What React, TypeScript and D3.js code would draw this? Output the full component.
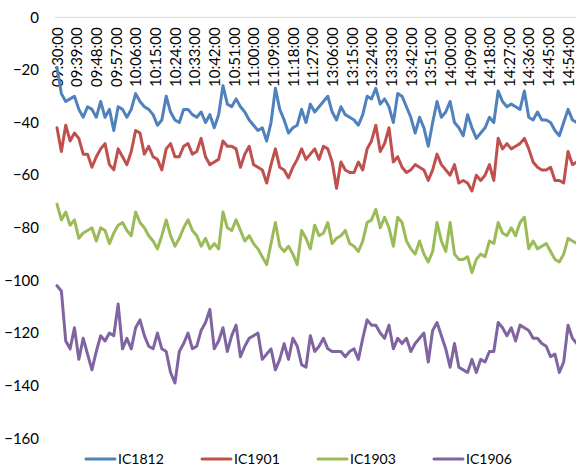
import * as d3 from "d3";
import React from "react";

// x labels, one every 9 minutes (lunch break skipped)
const tickLabels = [
  "09:30:00", "09:39:00", "09:48:00", "09:57:00", "10:06:00", "10:15:00", "10:24:00",
  "10:33:00", "10:42:00", "10:51:00", "11:00:00", "11:09:00", "11:18:00", "11:27:00",
  "13:06:00", "13:15:00", "13:24:00", "13:33:00", "13:42:00", "13:51:00", "14:00:00",
  "14:09:00", "14:18:00", "14:27:00", "14:36:00", "14:45:00", "14:54:00",
];

const yTicks = [0, -20, -40, -60, -80, -100, -120, -140, -160];

const seriesNames = ["IC1812", "IC1901", "IC1903", "IC1906"];
const seriesColors = ["#4F81BD", "#C0504D", "#9BBB59", "#8064A2"];

// values sampled every 2 trading minutes, 09:30 .. 15:00
const ic1812 = [
  -19, -29, -32, -31, -30, -35, -38, -34, -35, -38,
  -32, -38, -35, -43, -34, -35, -38, -35, -29, -32,
  -34, -35, -37, -41, -39, -30, -36, -39, -40, -35,
  -35, -37, -38, -36, -40, -37, -42, -37, -26, -33,
  -34, -31, -34, -36, -39, -41, -43, -42, -47, -40,
  -27, -35, -39, -44, -42, -41, -35, -40, -33, -36,
  -34, -32, -30, -36, -39, -34, -37, -38, -39, -41,
  -37, -30, -31, -27, -33, -31, -34, -40, -29, -30,
  -34, -38, -44, -38, -42, -49, -40, -32, -38, -36,
  -32, -40, -42, -45, -37, -42, -46, -44, -42, -38,
  -40, -28, -32, -34, -33, -34, -35, -28, -38, -39,
  -36, -39, -39, -40, -43, -45, -40, -35, -39, -40, -39,
];

const ic1901 = [
  -42, -51, -41, -47, -44, -46, -52, -52, -57, -53,
  -50, -48, -56, -58, -50, -53, -56, -51, -43, -44,
  -52, -49, -53, -54, -58, -50, -48, -53, -53, -49,
  -48, -52, -51, -46, -53, -56, -55, -54, -47, -49,
  -49, -50, -57, -52, -49, -56, -57, -58, -63, -56,
  -50, -57, -58, -61, -57, -54, -50, -54, -52, -50,
  -54, -49, -50, -55, -65, -55, -58, -59, -59, -55,
  -58, -50, -47, -41, -51, -48, -42, -55, -53, -57,
  -59, -58, -56, -57, -58, -62, -58, -52, -56, -58,
  -60, -56, -63, -62, -63, -66, -60, -62, -60, -56,
  -62, -46, -50, -48, -50, -49, -48, -46, -50, -55,
  -57, -58, -58, -57, -62, -62, -63, -51, -56, -55, -54,
];

const ic1903 = [
  -71, -77, -74, -79, -77, -84, -82, -81, -80, -85,
  -80, -81, -86, -82, -79, -78, -81, -83, -74, -78,
  -80, -83, -85, -88, -83, -77, -83, -87, -84, -80,
  -77, -81, -83, -87, -84, -88, -86, -88, -74, -80,
  -81, -77, -81, -85, -83, -86, -88, -91, -94, -86,
  -78, -87, -89, -87, -90, -94, -81, -84, -88, -79,
  -83, -82, -78, -86, -84, -83, -81, -86, -87, -89,
  -85, -78, -77, -73, -80, -76, -80, -87, -76, -78,
  -85, -88, -90, -85, -90, -93, -89, -78, -85, -89,
  -78, -90, -92, -92, -91, -97, -92, -90, -91, -85,
  -86, -78, -82, -83, -80, -83, -78, -76, -88, -85,
  -88, -87, -86, -89, -92, -93, -90, -84, -85, -86, -84,
];

const ic1906 = [
  -102, -104, -123, -126, -118, -130, -122, -128, -134, -127,
  -121, -123, -120, -121, -109, -126, -122, -126, -118, -115,
  -121, -125, -126, -120, -126, -127, -135, -139, -127, -124,
  -120, -126, -125, -119, -116, -111, -126, -123, -118, -127,
  -121, -117, -129, -125, -122, -121, -120, -130, -128, -126,
  -134, -130, -124, -130, -122, -125, -132, -133, -121, -127,
  -125, -122, -126, -127, -127, -127, -129, -127, -126, -130,
  -122, -115, -117, -117, -120, -122, -117, -126, -122, -124,
  -122, -127, -124, -122, -120, -131, -119, -116, -121, -126,
  -133, -124, -133, -134, -135, -130, -135, -130, -131, -127,
  -127, -116, -118, -121, -118, -123, -117, -118, -119, -122,
  -122, -124, -125, -129, -128, -135, -131, -117, -122, -124, -123,
];

const STEP = 2; // minutes between samples
const TICK_EVERY = 9; // minutes between x labels
const FONT = "Lato, 'Liberation Sans', sans-serif";

const width = 576;
const height = 467;

export default function App() {
  const svgRef = React.useRef<SVGSVGElement | null>(null);

  React.useEffect(() => {
    const series = [ic1812, ic1901, ic1903, ic1906];
    const lastMinute = (ic1812.length - 1) * STEP;

    // plot runs past the right edge of the picture, as in the reference
    const x = d3.scaleLinear().domain([0, lastMinute]).range([57, 57 + 2.184 * lastMinute]);
    const y = d3.scaleLinear().domain([-160, 0]).range([438.3, 17.3]);

    const svg = d3.select(svgRef.current);
    svg.selectAll("*").remove();

    // category axis sits at y = 0
    svg
      .append("line")
      .attr("x1", 55)
      .attr("x2", width)
      .attr("y1", y(0))
      .attr("y2", y(0))
      .attr("stroke", "#d9d9d9")
      .attr("stroke-width", 1);

    const xAxis = d3
      .axisBottom(x)
      .tickValues(tickLabels.map((_, i) => i * TICK_EVERY))
      .tickSize(0)
      .tickFormat((d) => tickLabels[Math.round(+d / TICK_EVERY)]);
    const xg = svg.append("g").attr("transform", `translate(0,${y(0)})`).call(xAxis);
    xg.select(".domain").remove();
    xg.selectAll("text")
      .attr("transform", "rotate(-90)")
      .attr("text-anchor", "end")
      .attr("x", -10)
      .attr("y", 0)
      .attr("dy", "0.35em")
      .attr("fill", "#000")
      .attr("font-size", 15)
      .attr("font-family", FONT);

    const yAxis = d3.axisLeft(y).tickValues(yTicks).tickSize(0).tickPadding(0);
    const yg = svg.append("g").attr("transform", "translate(39,0)").call(yAxis);
    yg.select(".domain").remove();
    yg.selectAll("text").attr("fill", "#000").attr("font-size", 15).attr("font-family", FONT);

    // series lines
    const line = d3
      .line<number>()
      .x((_, i) => x(i * STEP))
      .y((d) => y(d));

    svg
      .append("g")
      .selectAll("path")
      .data(series)
      .join("path")
      .attr("fill", "none")
      .attr("stroke", (_, i) => seriesColors[i])
      .attr("stroke-width", 3)
      .attr("stroke-linejoin", "round")
      .attr("stroke-linecap", "round")
      .attr("d", (d) => line(d));

    // legend
    const legend = svg
      .append("g")
      .selectAll("g")
      .data(seriesNames)
      .join("g")
      .attr("transform", (_, i) => `translate(${86 + i * 116},459)`);
    legend
      .append("line")
      .attr("x1", 0)
      .attr("x2", 29)
      .attr("stroke", (_, i) => seriesColors[i])
      .attr("stroke-width", 3)
      .attr("stroke-linecap", "round");
    legend
      .append("text")
      .attr("x", 32)
      .attr("dy", "0.35em")
      .attr("font-size", 14)
      .attr("font-family", FONT)
      .attr("fill", "#000")
      .text((d) => d);
  }, []);

  return (
    <svg
      ref={svgRef}
      width={width}
      height={height}
      style={{ position: "absolute", left: 0, top: 0, background: "#fff" }}
    />
  );
}
